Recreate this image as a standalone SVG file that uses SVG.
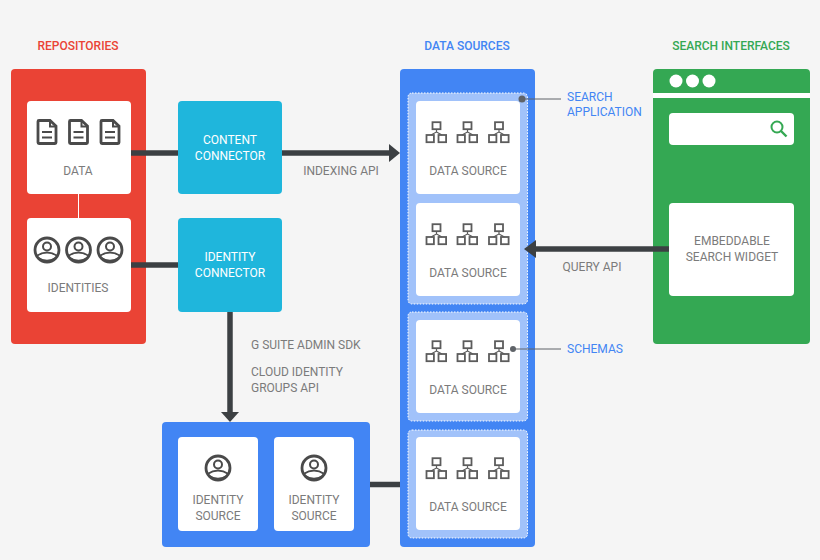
<svg xmlns="http://www.w3.org/2000/svg" width="820" height="560" viewBox="0 0 820 560">
<style>
text{font-family:Roboto,"Liberation Sans",sans-serif;font-size:12px;fill:#7b7b7b;text-anchor:middle}
.head{font-size:12px;font-weight:500}
.blue{fill:#4285f4}
.card{fill:#fff}
.band{fill:#a1c2fa;stroke:#fff;stroke-width:1;stroke-dasharray:1.5 1.5}
.ln{stroke:#3c4043;stroke-width:5.500;fill:none}
.lead{stroke:#5f6368;stroke-width:1;fill:none}
.ic{fill:none;stroke:#4a4a4a;stroke-width:2}
.thick{stroke-width:2.800}
.nt{fill:none;stroke:#5c5c5c;stroke-width:1.800}
.nt2{fill:none;stroke:#5c5c5c;stroke-width:1.200}
.w{fill:#fff}
.b{fill:#4285f4;text-anchor:start}
.s{text-anchor:start}
</style>
<defs>
<g id="doc"><path class="ic thick" d="M-8-11.500H3L9-6V10.500Q9 11.500 8 11.500H-8Q-9 11.500-9 10.500V-10.500Q-9-11.500-8-11.500Z"/><path d="M3-11.500V-5.500H9" class="ic"/><path d="M-5 0H5M-5 5.500H5" class="ic"/></g>
<g id="net"><rect class="nt" x="-4" y="-9.800" width="8" height="7"/><rect class="nt" x="-10" y="3" width="7.400" height="7.200"/><rect class="nt" x="2" y="3" width="7.600" height="7.200"/><path class="nt2" d="M0-3V0L-5.500 3M0 0L5.500 3"/></g>
<g id="person"><circle class="ic thick" r="12"/><circle class="ic" cy="-3.500" r="4"/><path class="ic" d="M-10.500 6Q0-1 10.500 6M-9.500 7.500Q0 14 9.500 7.500"/></g>
</defs>
<rect width="820" height="560" fill="#f5f5f5"/>
<g id="repositories">
<rect x="11" y="69" width="135" height="275" rx="4" fill="#ea4335"/>
<text class="head" x="78" y="50" style="fill:#ea4335">REPOSITORIES</text>
<path d="M78.500 194V218" stroke="#fff" stroke-width="1"/>
</g>
<g id="data">
<rect class="card" x="27" y="101" width="104" height="93" rx="4"/>
<use href="#doc" x="47" y="132"/><use href="#doc" x="78.500" y="132"/><use href="#doc" x="110" y="132"/>
<text x="78" y="175">DATA</text>
</g>
<g id="identities">
<rect class="card" x="27" y="218" width="104" height="94" rx="4"/>
<use href="#person" x="47" y="250"/><use href="#person" x="78.500" y="250"/><use href="#person" x="110" y="250"/>
<text x="78" y="292">IDENTITIES</text>
</g>
<g id="content-connector">
<rect x="178" y="101" width="104" height="93" rx="4" fill="#1fb6dc"/>
<text class="w" x="230" y="144">CONTENT</text><text class="w" x="230" y="160">CONNECTOR</text>
</g>
<g id="identity-connector">
<rect x="178" y="218" width="104" height="94" rx="4" fill="#1fb6dc"/>
<text class="w" x="230" y="261">IDENTITY</text><text class="w" x="230" y="277">CONNECTOR</text>
</g>
<g id="labels">
<text x="341" y="175">INDEXING API</text>
<text x="592" y="271">QUERY API</text>
<text class="s" x="251" y="349">G SUITE ADMIN SDK</text>
<text class="s" x="251" y="376">CLOUD IDENTITY</text>
<text class="s" x="251" y="392">GROUPS API</text>
<text class="b" x="567" y="101">SEARCH</text>
<text class="b" x="567" y="116">APPLICATION</text>
<text class="b" x="567" y="353">SCHEMAS</text>
</g>
<g id="identity-sources">
<rect x="162" y="422" width="208" height="125" rx="4" class="blue"/>
<g id="identity-source-1"><rect class="card" x="178" y="437" width="80" height="94" rx="4"/><use href="#person" x="218" y="468"/><text x="218" y="504">IDENTITY</text><text x="218" y="520">SOURCE</text></g>
<g id="identity-source-2"><rect class="card" x="274" y="437" width="80" height="94" rx="4"/><use href="#person" x="314" y="468"/><text x="314" y="504">IDENTITY</text><text x="314" y="520">SOURCE</text></g>
</g>
<g id="data-sources">
<text class="head" x="467" y="50" style="fill:#4285f4">DATA SOURCES</text>
<rect x="400" y="69" width="135" height="478" rx="4" class="blue"/>
<rect class="band" x="408" y="93" width="119.500" height="211" rx="4"/>
<rect class="band" x="408" y="312" width="119.500" height="109" rx="4"/>
<rect class="band" x="408" y="430" width="119.500" height="108" rx="4"/>
</g>
<g id="data-source-1"><rect class="card" x="416" y="101" width="104" height="93" rx="4"/><use href="#net" x="436.500" y="132"/><use href="#net" x="467.500" y="132"/><use href="#net" x="499" y="132"/><text x="468" y="175">DATA SOURCE</text></g>
<g id="data-source-2"><rect class="card" x="416" y="203" width="104" height="93" rx="4"/><use href="#net" x="436.500" y="234"/><use href="#net" x="467.500" y="234"/><use href="#net" x="499" y="234"/><text x="468" y="277">DATA SOURCE</text></g>
<g id="data-source-3"><rect class="card" x="416" y="320" width="104" height="93" rx="4"/><use href="#net" x="436.500" y="351"/><use href="#net" x="467.500" y="351"/><use href="#net" x="499" y="351"/><text x="468" y="394">DATA SOURCE</text></g>
<g id="data-source-4"><rect class="card" x="416" y="437" width="104" height="93" rx="4"/><use href="#net" x="436.500" y="468"/><use href="#net" x="467.500" y="468"/><use href="#net" x="499" y="468"/><text x="468" y="511">DATA SOURCE</text></g>
<g id="search-interfaces">
<text class="head" x="731" y="50" style="fill:#34a853">SEARCH INTERFACES</text>
<rect x="653" y="69" width="157" height="275" rx="4" fill="#34a853"/>
<rect x="653" y="93" width="157" height="5" fill="#fff"/>
<circle cx="676" cy="81" r="6.500" fill="#fff"/><circle cx="692.500" cy="81" r="6.500" fill="#fff"/><circle cx="709" cy="81" r="6.500" fill="#fff"/>
<rect class="card" x="669" y="113" width="125" height="32" rx="4"/>
<circle cx="777" cy="127" r="5.500" fill="none" stroke="#34a853" stroke-width="2"/><path d="M781 131L786.500 136.500" stroke="#34a853" stroke-width="2.400"/>
<rect class="card" x="669" y="203" width="125" height="93" rx="4"/>
<text x="732" y="245">EMBEDDABLE</text><text x="732" y="261">SEARCH WIDGET</text>
</g>
<g id="connectors">
<path class="ln" d="M131 153H178M282 153H392M131 265H178M230 312V414M370 484.500H400M669 249H534"/>
<path d="M400 153L389 144V162Z" fill="#3c4043"/>
<path d="M524 249L536 240V258Z" fill="#3c4043"/>
<path d="M230 422L221 412H239Z" fill="#3c4043"/>
<path class="lead" d="M522 99H561M513 349H561"/>
<circle cx="522" cy="99" r="3.500" fill="#5f6368"/><circle cx="513" cy="349" r="3" fill="#5f6368"/>
</g>
</svg>
